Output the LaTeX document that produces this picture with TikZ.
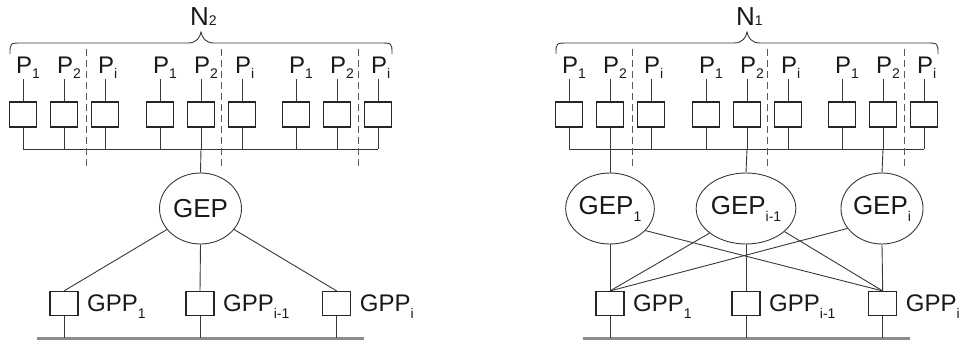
\documentclass[tikz,border=0pt]{standalone}
\usepackage{fontspec}
\setmainfont{Liberation Sans}
\usetikzlibrary{shapes.geometric}
\definecolor{linec}{gray}{0.22}
\definecolor{boxc}{gray}{0.15}
\definecolor{txtc}{gray}{0.1}
\definecolor{busc}{gray}{0.55}
\definecolor{sepc}{gray}{0.35}
\newcommand\psub[1]{\raisebox{-5pt}{\fontsize{14}{14}\selectfont #1}}
\newcommand\gsub[1]{\raisebox{-7pt}{\fontsize{14}{14}\selectfont #1}}
\newcommand\nsub[1]{\raisebox{0pt}{\fontsize{14}{14}\selectfont #1}}
\tikzset{
  pbox/.style={draw=boxc, line width=1.5pt, minimum width=27pt, minimum height=25pt, inner sep=0pt},
  gbox/.style={draw=boxc, line width=1.5pt, minimum width=28pt, minimum height=24pt, inner sep=0pt},
  gep/.style={ellipse, draw=linec, line width=0.9pt, minimum width=82pt, minimum height=71pt, inner sep=0pt, text=txtc, font=\fontsize{26}{26}\selectfont},
  conn/.style={draw=linec, line width=0.9pt},
  sepline/.style={draw=sepc, line width=0.9pt, dash pattern=on 7pt off 4pt},
  bus/.style={draw=busc, line width=2.2pt},
  plab/.style={anchor=base west, inner sep=0pt, text=txtc, font=\fontsize{24}{24}\selectfont},
  glab/.style={anchor=base west, inner sep=0pt, text=txtc, font=\fontsize{24}{24}\selectfont},
  nlab/.style={anchor=base west, inner sep=0pt, text=txtc, font=\fontsize{26}{26}\selectfont}
}
\begin{document}
\begin{tikzpicture}[x=1pt,y=-1pt]
\useasboundingbox (0,0) rectangle (961,340);
\foreach \s/\pre/\nn in {0/L/2,546/R/1} {
\begin{scope}[xshift=\s pt]
  \foreach \x/\sub [count=\k] in {23/1,64/2,105/i,160/1,201/2,242/i,296/1,337/2,378/i} {
    \node[pbox] (\pre b\k) at (\x,114.5) {};
    \coordinate (\pre t\k) at (\x,79);
    \coordinate (\pre u\k) at (\x,149);
    \draw[conn] (\pre b\k.north) -- (\pre t\k);
    \draw[conn] (\pre b\k.south) -- (\pre u\k);
    \node[plab] (\pre p\k) at (\x-7,73.5) {P\psub{\sub}};
  }
  \draw[conn] (\pre u1) -- (\pre u9);
  \foreach \x [count=\j] in {86,221.7,358.3} {
    \coordinate (\pre da\j) at (\x,49);
    \coordinate (\pre db\j) at (\x,166);
    \draw[sepline] (\pre da\j) -- (\pre db\j);
  }
  \draw[conn] (10,54) .. controls (10,43) .. (22,43) -- (188,43)
     .. controls (197,43) and (200,37) .. (201,32)
     .. controls (202,37) and (205,43) .. (214,43) -- (380,43)
     .. controls (392,43) .. (392,54);
  \node[nlab] (\pre N) at (190,25.5) {N\nsub{\nn}};
  \coordinate (\pre busa) at (37,338.5);
  \coordinate (\pre busb) at (364,338.5);
  \draw[bus] (\pre busa) -- (\pre busb);
\end{scope}
}
% left diagram bottom
\node[gep] (LG) at (200.5,208.5) {GEP};
\foreach \x/\sub [count=\k] in {64/1,200/{i-1},336.7/i} {
  \node[gbox] (Lq\k) at (\x,303.7) {};
  \coordinate (Ld\k) at (\x,338);
  \draw[conn] (Lq\k.south) -- (Ld\k);
  \node[glab] (Ll\k) at (\x+23,311) {GPP\gsub{\sub}};
}
\draw[conn] (Lu5) -- (LG.north);
\draw[conn] (LG.-148) -- (Lq1.north);
\draw[conn] (LG.south) -- (Lq2.north);
\draw[conn] (LG.-32) -- (Lq3.north);
% right diagram bottom
\node[gep] (RG1) at (610,208.5) {GEP\gsub{1}};
\node[gep] (RG2) at (746,208.5) {GEP\gsub{i-1}};
\node[gep] (RG3) at (882,208.5) {GEP\gsub{i}};
\foreach \x/\sub [count=\k] in {610/1,746/{i-1},882.7/i} {
  \node[gbox] (Rq\k) at (\x,303.7) {};
  \coordinate (Rd\k) at (\x,338);
  \draw[conn] (Rq\k.south) -- (Rd\k);
  \node[glab] (Rl\k) at (\x+23,311) {GPP\gsub{\sub}};
}
\draw[conn] (Ru2) -- (RG1.north);
\draw[conn] (Ru5) -- (RG2.north);
\draw[conn] (Ru8) -- (RG3.north);
\draw[conn] (RG1.south) -- (Rq1.north);
\draw[conn] (RG2.south) -- (Rq2.north);
\draw[conn] (RG3.south) -- (Rq3.north);
\draw[conn] (RG1.-32) -- (Rq3.north);
\draw[conn] (RG2.-146) -- (Rq1.north);
\draw[conn] (RG2.-31) -- (Rq3.north);
\draw[conn] (RG3.-150) -- (Rq1.north);
\end{tikzpicture}
\end{document}
